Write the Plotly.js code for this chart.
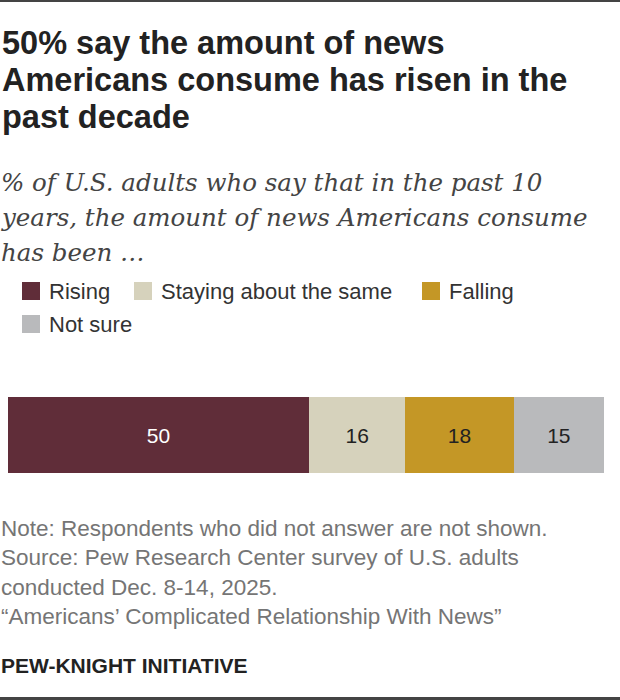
<!DOCTYPE html>
<html>
<head>
<meta charset="utf-8">
<script src="https://cdn.plot.ly/plotly-3.0.1.min.js"></script>
<style>
  html, body { margin: 0; padding: 0; background: #fff; }
  #chart { width: 620px; height: 700px; }
</style>
</head>
<body>
<div id="chart"></div>
<script>
// Survey responses: how the amount of news Americans consume has changed
const categories = ['Rising', 'Staying about the same', 'Falling', 'Not sure'];
const values = [50, 16, 18, 15];

const titleLines = [
  '50% say the amount of news',
  'Americans consume has risen in the',
  'past decade'
];
const subtitleLines = [
  '% of U.S. adults who say that in the past 10',
  'years, the amount of news Americans consume',
  'has been \u2026'
];
const noteLines = [
  'Note: Respondents who did not answer are not shown.',
  'Source: Pew Research Center survey of U.S. adults',
  'conducted Dec. 8-14, 2025.',
  '\u201cAmericans\u2019 Complicated Relationship With News\u201d'
];
const brand = 'PEW-KNIGHT INITIATIVE';

// Styling
const barColors = ['#602d39', '#d6d2bc', '#c49726', '#b9babc'];
const labelColors = ['#ffffff', '#222222', '#222222', '#222222'];
const W = 620, H = 700;
const M = { l: 8, r: 16, t: 397, b: 227 };
const plotW = W - M.l - M.r, plotH = H - M.t - M.b;

// pixel -> paper coordinates
const px = x => (x - M.l) / plotW;
const py = y => (H - M.b - y) / plotH;

const sans = '"Liberation Sans", Arial, sans-serif';
const serif = '"DejaVu Serif", Georgia, serif';

const traces = categories.map((c, i) => ({
  type: 'bar',
  orientation: 'h',
  name: c,
  y: ['all'],
  x: [values[i]],
  marker: { color: barColors[i], line: { width: 0 } },
  texttemplate: '%{x}',
  textposition: 'inside',
  insidetextanchor: 'middle',
  constraintext: 'none',
  textfont: { family: sans, size: 21, color: labelColors[i] },
  hoverinfo: 'skip',
  showlegend: false
}));

const annotations = [];
const shapes = [];

function textLine(text, x, y, font) {
  annotations.push({
    xref: 'paper', yref: 'paper',
    x: px(x), y: py(y),
    xanchor: 'left', yanchor: 'middle',
    text: text, showarrow: false, align: 'left',
    font: font
  });
}

titleLines.forEach((t, i) =>
  textLine('<b>' + t + '</b>', 0, 43 + i * 37, { family: sans, size: 32.5, color: '#222222' }));

subtitleLines.forEach((t, i) =>
  textLine('<i>' + t + '</i>', -1, 182 + i * 35, { family: serif, size: 24.5, color: '#444444' }));

// Legend built from the category list
const legendPos = [[22, 291], [134, 291], [422, 291], [22, 324]];
categories.forEach((c, i) => {
  const [lx, ly] = legendPos[i];
  shapes.push({
    type: 'rect', xref: 'paper', yref: 'paper',
    x0: px(lx), x1: px(lx + 18), y0: py(ly - 9), y1: py(ly + 9),
    fillcolor: barColors[i], line: { width: 0 }
  });
  textLine(c, lx + 25, ly, { family: sans, size: 22, color: '#333333' });
});

noteLines.forEach((t, i) =>
  textLine(t, -1, 528 + i * 29.5, { family: sans, size: 22.5, color: '#757575' }));

textLine('<b>' + brand + '</b>', -1, 665, { family: sans, size: 21, color: '#222222' });

// Top and bottom rules
shapes.push({ type: 'rect', xref: 'paper', yref: 'paper',
  x0: px(0), x1: px(W), y0: py(0), y1: py(2), fillcolor: '#444444', line: { width: 0 } });
shapes.push({ type: 'rect', xref: 'paper', yref: 'paper',
  x0: px(0), x1: px(W), y0: py(697), y1: py(700), fillcolor: '#444444', line: { width: 0 } });

const layout = {
  width: W, height: H,
  margin: M,
  paper_bgcolor: '#ffffff', plot_bgcolor: '#ffffff',
  barmode: 'stack', bargap: 0,
  showlegend: false,
  xaxis: { range: [0, 99], visible: false, fixedrange: true },
  yaxis: { range: [-0.5, 0.5], visible: false, fixedrange: true },
  annotations: annotations,
  shapes: shapes
};

Plotly.newPlot('chart', traces, layout, { displayModeBar: false, staticPlot: true });
</script>
</body>
</html>
